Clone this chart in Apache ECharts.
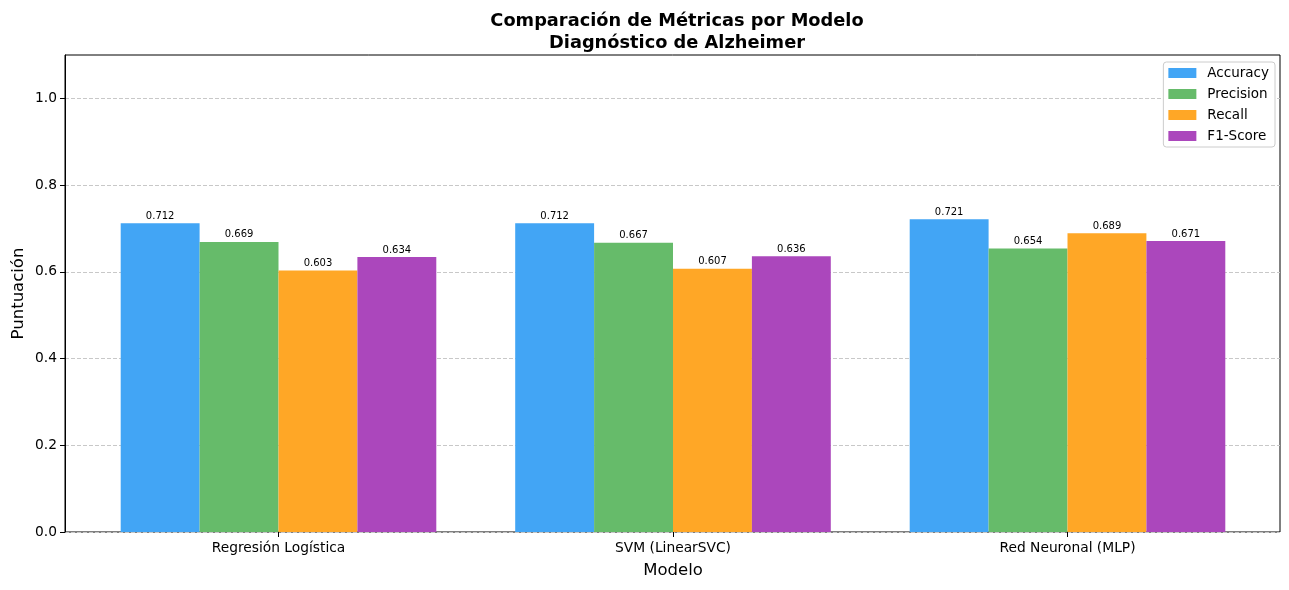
<!DOCTYPE html>
<html>
<head>
<meta charset="utf-8">
<script src="https://cdn.jsdelivr.net/npm/echarts@6/dist/echarts.min.js"></script>
<style>html,body{margin:0;padding:0;background:#fff;}#c{width:1289px;height:590px;}</style>
</head>
<body>
<div id="c"></div>
<script>
const categories = ['Regresión Logística', 'SVM (LinearSVC)', 'Red Neuronal (MLP)'];
const seriesNames = ['Accuracy', 'Precision', 'Recall', 'F1-Score'];
const accuracy = [0.712, 0.712, 0.721];
const precision = [0.669, 0.667, 0.654];
const recall = [0.603, 0.607, 0.689];
const f1 = [0.634, 0.636, 0.671];
const yTicks = [0, 0.2, 0.4, 0.6, 0.8, 1.0];

const colors = ['#42A5F5', '#66BB6A', '#FFA726', '#AB47BC'];
const values = [accuracy, precision, recall, f1];
const FONT = 'DejaVu Sans';

const chart = echarts.init(document.getElementById('c'), null, {renderer: 'canvas'});
const gridTop = 55, gridBottom = 58;

const series = values.map((v, i) => ({
  name: seriesNames[i],
  type: 'bar',
  xAxisIndex: 1,
  yAxisIndex: 1,
  data: v,
  barWidth: '20%',
  barGap: '0%',
  itemStyle: {color: colors[i]},
  label: {
    show: true,
    position: 'top',
    distance: 2,
    formatter: p => p.value.toFixed(3),
    fontFamily: FONT,
    fontSize: 10,
    color: '#000'
  }
}));

chart.setOption({
  animation: false,
  backgroundColor: '#fff',
  title: {
    text: 'Comparación de Métricas por Modelo\nDiagnóstico de Alzheimer',
    left: 672,
    top: 6,
    textAlign: 'center',
    textStyle: {fontFamily: FONT, fontWeight: 'bold', fontSize: 17.8, lineHeight: 21.5, color: '#000'}
  },
  legend: {
    data: seriesNames,
    orient: 'vertical',
    right: 14,
    top: 62,
    itemWidth: 28,
    itemHeight: 10,
    itemGap: 7,
    padding: [4, 6, 4, 5],
    borderColor: '#cccccc',
    borderWidth: 1,
    borderRadius: 3,
    backgroundColor: '#fff',
    icon: 'rect',
    textStyle: {fontFamily: FONT, fontSize: 13.5, color: '#000', padding: [0, 0, 0, 6], lineHeight: 14}
  },
  grid: [
    {left: 65, right: 9, top: gridTop, bottom: gridBottom, show: true, borderColor: '#000', borderWidth: 1, backgroundColor: 'transparent'},
    {left: 81.25, right: 24.25, top: gridTop, bottom: gridBottom}
  ],
  xAxis: [
    {type: 'value', gridIndex: 0, show: false, min: 0, max: 1},
    {
      type: 'category', gridIndex: 1, data: categories,
      name: 'Modelo', nameLocation: 'middle', nameGap: 30, nameMoveOverlap: false,
      nameTextStyle: {fontFamily: FONT, fontSize: 16.5, color: '#000'},
      axisLine: {show: false},
      axisTick: {show: true, alignWithLabel: true, length: 5, lineStyle: {color: '#000'}},
      axisLabel: {fontFamily: FONT, fontSize: 13.8, color: '#000', margin: 9},
      splitLine: {show: false}
    }
  ],
  yAxis: [
    {
      type: 'value', gridIndex: 0, min: 0, max: 1.1, interval: 0.2,
      name: 'Puntuación', nameLocation: 'middle', nameGap: 38, nameMoveOverlap: false,
      nameTextStyle: {fontFamily: FONT, fontSize: 16.5, color: '#000'},
      axisLine: {show: true, lineStyle: {color: '#000'}},
      axisTick: {show: true, length: 5, lineStyle: {color: '#000'}, customValues: yTicks},
      axisLabel: {fontFamily: FONT, fontSize: 13.8, color: '#000', margin: 8, customValues: yTicks, formatter: v => v.toFixed(1)},
      splitLine: {show: true, lineStyle: {color: '#c8c8c8', type: [4, 2], width: 1}}
    },
    {type: 'value', gridIndex: 1, min: 0, max: 1.1, show: false, splitLine: {show: false}}
  ],
  series: series
});
</script>
</body>
</html>
